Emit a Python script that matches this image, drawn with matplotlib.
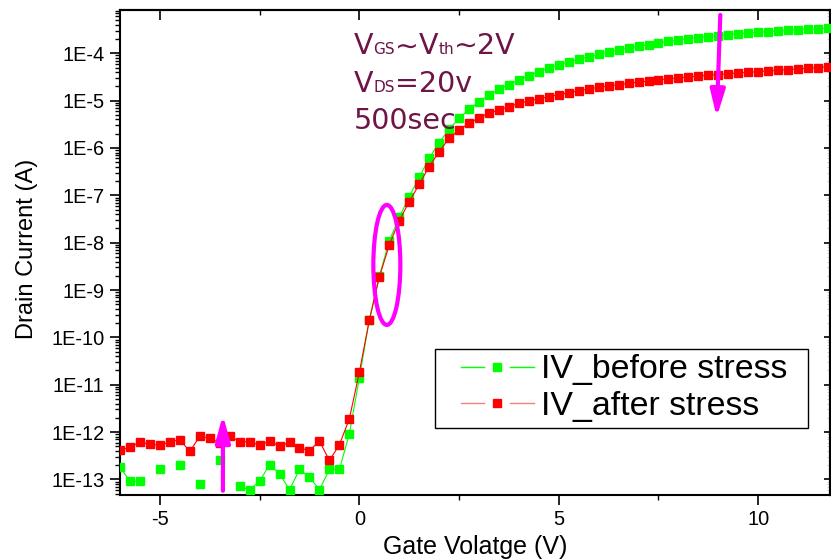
import numpy as np
import matplotlib
matplotlib.use("Agg")
import matplotlib.pyplot as plt
from matplotlib.lines import Line2D
from matplotlib.legend_handler import HandlerBase
from matplotlib.patches import Ellipse
from matplotlib.ticker import FixedLocator, MultipleLocator, FuncFormatter, LogLocator, NullFormatter
from matplotlib.offsetbox import TextArea, HPacker, AnnotationBbox

plt.rcParams['axes.unicode_minus'] = False
plt.rcParams['font.family'] = ['Liberation Sans', 'DejaVu Sans']

# ---------------- data ----------------
gate_voltage = [
    -6.0, -5.75, -5.5, -5.25, -5.0, -4.75, -4.5, -4.25, -4.0, -3.75, -3.5, -3.25,
    -3.0, -2.75, -2.5, -2.25, -2.0, -1.75, -1.5, -1.25, -1.0, -0.75, -0.5, -0.25,
    0.0, 0.25, 0.5, 0.75, 1.0, 1.25, 1.5, 1.75, 2.0, 2.25, 2.5, 2.75,
    3.0, 3.25, 3.5, 3.75, 4.0, 4.25, 4.5, 4.75, 5.0, 5.25, 5.5, 5.75,
    6.0, 6.25, 6.5, 6.75, 7.0, 7.25, 7.5, 7.75, 8.0, 8.25, 8.5, 8.75,
    9.0, 9.25, 9.5, 9.75, 10.0, 10.25, 10.5, 10.75, 11.0, 11.25, 11.5, 11.75,
]
nan = float('nan')
log_id_before = [
    -12.74, -13.04, -13.04, nan, -12.79, nan, -12.69, nan, -13.09, nan, -12.60, nan,
    -13.15, -13.22, -13.04, -12.69, -12.88, -13.22, -12.79, -12.95, -13.22, -12.79, -12.79, -12.04,
    -10.86, -9.64, -8.71, -7.965, -7.465, -7.03, -6.62, -6.22, -5.885, -5.606, -5.373, -5.183,
    -5.021, -4.880, -4.761, -4.662, -4.563, -4.472, -4.387, -4.310, -4.246, -4.176, -4.120, -4.070,
    -4.021, -3.979, -3.930, -3.887, -3.852, -3.817, -3.782, -3.746, -3.718, -3.690, -3.669, -3.648,
    -3.627, -3.606, -3.585, -3.570, -3.556, -3.542, -3.528, -3.514, -3.500, -3.493, -3.486, -3.472,
]
log_id_after = [
    -12.387, -12.317, -12.211, -12.26, -12.28, -12.21, -12.16, -12.41, -12.09, -12.13, -12.23, -12.08,
    -12.21, -12.20, -12.28, -12.19, -12.30, -12.22, -12.34, -12.39, -12.19, -12.60, -12.27, -11.72,
    -10.74, -9.634, -8.73, -8.05, -7.535, -7.134, -6.77, -6.394, -6.077, -5.796, -5.620, -5.479,
    -5.359, -5.268, -5.197, -5.127, -5.056, -5.007, -4.958, -4.915, -4.873, -4.831, -4.789, -4.754,
    -4.718, -4.690, -4.662, -4.634, -4.606, -4.585, -4.563, -4.542, -4.521, -4.500, -4.479, -4.465,
    -4.451, -4.430, -4.415, -4.401, -4.387, -4.373, -4.359, -4.345, -4.331, -4.317, -4.303, -4.282,
]
labels = ["IV_before stress", "IV_after stress"]
y_decades = list(range(-13, -3))
x_major_ticks = [-5, 0, 5, 10]

x = np.array(gate_voltage)
id_before = 10.0 ** np.array(log_id_before)
id_after = 10.0 ** np.array(log_id_after)

GREEN = '#00ff00'
RED = '#ff0000'
MAGENTA = '#ff00ff'
MAROON = '#6e1446'

# ---------------- figure ----------------
fig = plt.figure(figsize=(8.31, 5.6), dpi=100)
ax = fig.add_axes([120/831, 65/560, 710/831, 485/560])

ax.plot(x, id_before, color=GREEN, lw=0.8, marker='s', ms=5.3, mec=GREEN, mfc=GREEN,
        label=labels[0], zorder=3)
ax.plot(x, id_after, color=RED, lw=0.8, marker='s', ms=5.3, mec=RED, mfc=RED,
        label=labels[1], zorder=4)

ax.set_yscale('log')
ax.set_xlim(-6, 11.8)
ax.set_ylim(10 ** -13.33, 10 ** -3.085)

ax.yaxis.set_major_locator(FixedLocator([10.0 ** d for d in y_decades]))
ax.yaxis.set_major_formatter(FuncFormatter(lambda v, p: "1E%d" % int(round(np.log10(v)))))
ax.yaxis.set_minor_locator(LogLocator(base=10, subs=np.arange(2, 10), numticks=30))
ax.yaxis.set_minor_formatter(NullFormatter())
ax.xaxis.set_major_locator(FixedLocator(x_major_ticks))
ax.xaxis.set_minor_locator(MultipleLocator(2.5))

ax.tick_params(axis='both', which='major', direction='out', length=7, width=1.2,
               labelsize=14.4, pad=4, top=False, right=False)
ax.tick_params(axis='both', which='minor', direction='out', length=3.8, width=1.0,
               top=False, right=False)
for s in ax.spines.values():
    s.set_linewidth(1.5)

# mirrored ticks (inward) on top and right
secx = ax.secondary_xaxis('top')
secx.xaxis.set_major_locator(FixedLocator(x_major_ticks))
secx.xaxis.set_minor_locator(MultipleLocator(2.5))
secx.tick_params(axis='x', which='major', direction='in', length=7, width=1.2, labeltop=False)
secx.tick_params(axis='x', which='minor', direction='in', length=3.8, width=1.0)
secx.spines['top'].set_linewidth(1.5)

secy = ax.secondary_yaxis('right')
secy.yaxis.set_major_locator(FixedLocator([10.0 ** d for d in y_decades]))
secy.yaxis.set_minor_locator(LogLocator(base=10, subs=np.arange(2, 10), numticks=30))
secy.tick_params(axis='y', which='major', direction='in', length=4, width=1.2, labelright=False)
secy.tick_params(axis='y', which='minor', direction='in', length=2, width=0.5, colors='#bbbbbb')
secy.spines['right'].set_linewidth(1.5)

ax.set_xlabel("Gate Volatge (V)", fontsize=18, labelpad=4)
ax.set_ylabel("Drain Current (A)", fontsize=17, labelpad=10)
ax.yaxis.label.set_y(0.508)

# ---------------- legend (Origin style: line - marker - line) ----------------
class HandlerOrigin(HandlerBase):
    def __init__(self, line_color, marker_color):
        super().__init__()
        self.line_color = line_color
        self.marker_color = marker_color

    def create_artists(self, legend, orig_handle, xdescent, ydescent, width, height,
                       fontsize, trans):
        y = height / 2.0 - ydescent
        start = -xdescent + width * 0.22
        w = width * 0.78
        seg = w * 0.32
        l1 = Line2D([start, start + seg], [y, y], color=self.line_color, lw=1.0)
        l2 = Line2D([start + w - seg, start + w], [y, y], color=self.line_color, lw=1.0)
        m = Line2D([start + w / 2.0], [y], marker='s', ms=5.3, color=self.marker_color,
                   ls='none')
        for a in (l1, l2, m):
            a.set_transform(trans)
        return [l1, m, l2]

handles, lbls = ax.get_legend_handles_labels()
leg = ax.legend(handles, lbls, loc='upper left',
                bbox_to_anchor=(435/831, 1 - 427/560, 373/831, 78/560),
                mode='expand',
                bbox_transform=fig.transFigure, borderaxespad=0, fontsize=24.4,
                frameon=True, fancybox=False, shadow=False, framealpha=1,
                edgecolor='black', handlelength=2.75, handletextpad=0.22,
                borderpad=0.16, labelspacing=0.17,
                handler_map={handles[0]: HandlerOrigin(GREEN, GREEN),
                             handles[1]: HandlerOrigin('#f08080', RED)})
leg.get_frame().set_linewidth(1.0)
leg.set_zorder(5)

# ---------------- annotation text ----------------
big = dict(color=MAROON, fontsize=20.5, family='DejaVu Sans')
small = dict(color=MAROON, fontsize=11, family='DejaVu Sans')

def line_box(parts):
    kids = [TextArea(t, textprops=(big if b else small)) for t, b in parts]
    return HPacker(children=kids, align='baseline', pad=0, sep=0)

lines = [
    ([("V", True), ("GS", False), ("\u223c", True), ("V", True), ("th", False),
      ("\u223c2V", True)], 54),
    ([("V", True), ("DS", False), ("=20v", True)], 92),
    ([("500sec", True)], 129),
]
for parts, base_px in lines:
    ab = AnnotationBbox(line_box(parts), (354/831, 1 - (base_px + 6)/560),
                        xycoords='figure fraction', box_alignment=(0, 0),
                        frameon=False, pad=0)
    ax.add_artist(ab)

# ---------------- magenta highlight marks ----------------
arrow_kw = dict(arrowstyle='-|>,head_length=0.8,head_width=0.22', mutation_scale=20,
                lw=3, color=MAGENTA, shrinkA=0, shrinkB=0)
ax.annotate('', xy=(-3.42, 10 ** -11.64), xytext=(-3.42, 10 ** -13.24),
            arrowprops=arrow_kw, zorder=6)
ax.annotate('', xy=(8.96, 10 ** -5.35), xytext=(9.05, 10 ** -3.19),
            arrowprops=arrow_kw, zorder=6)

fig.canvas.draw()
ctr = (ax.transData + ax.transAxes.inverted()).transform((0.69, 10 ** -8.47))
ax.add_patch(Ellipse(ctr, 27/710, 120/485, transform=ax.transAxes, fill=False,
                     edgecolor=MAGENTA, lw=3, zorder=6))

fig.savefig("out.png", dpi=100)
